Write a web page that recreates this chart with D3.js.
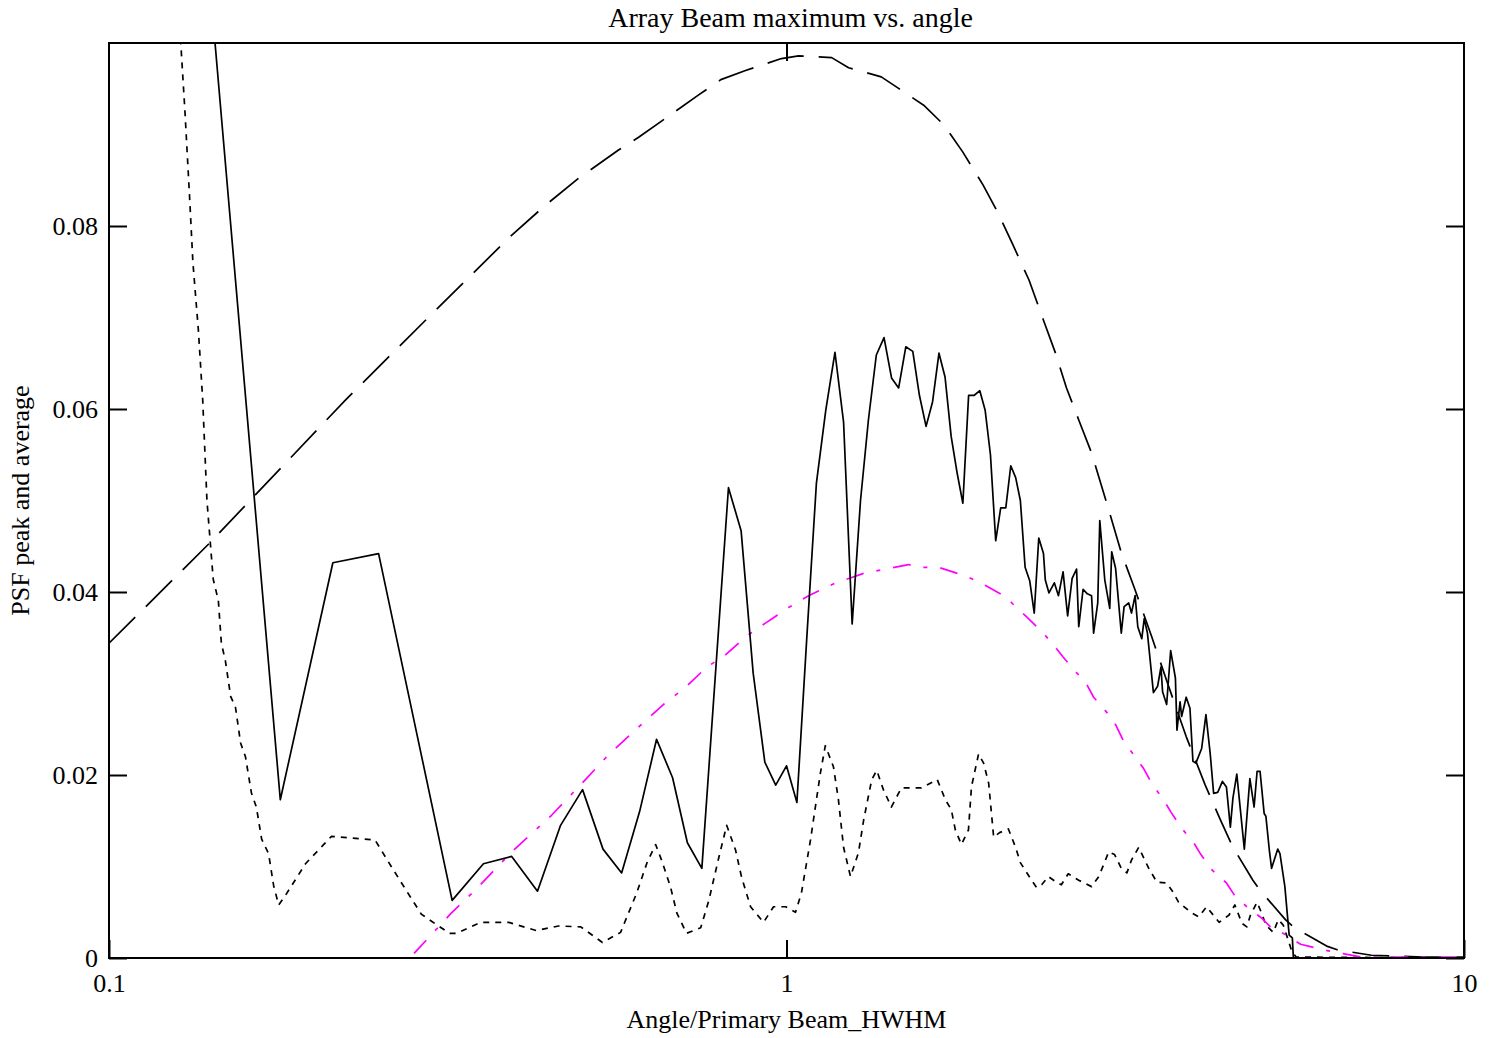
<!DOCTYPE html>
<html>
<head>
<meta charset="utf-8">
<script src="https://cdn.jsdelivr.net/npm/d3@7/dist/d3.min.js"></script>
<style>
body { margin: 0; background: #fff; }
svg text { font-family: "Liberation Serif", "Times New Roman", serif; fill: #000; }
</style>
</head>
<body>
<div id="chart"></div>
<script>
// values: [angle / primary beam HWHM, PSF value]
var xTicks = [0.1, 1, 10];
var yTicks = [0, 0.02, 0.04, 0.06, 0.08];
var title = "Array Beam maximum vs. angle";
var xLabel = "Angle/Primary Beam_HWHM";
var yLabel = "PSF peak and average";

// solid: beam maximum
var beamPeak = [
  [0.143, 0.101], [0.179, 0.0173], [0.214, 0.0432], [0.25, 0.0442], [0.321, 0.0063],
  [0.357, 0.0103], [0.393, 0.0111], [0.429, 0.0073], [0.464, 0.0145], [0.5, 0.0184],
  [0.536, 0.0119], [0.571, 0.0093], [0.607, 0.016], [0.643, 0.0239], [0.679, 0.0197],
  [0.714, 0.0126], [0.75, 0.0098], [0.821, 0.0514], [0.857, 0.0467], [0.893, 0.0311],
  [0.929, 0.0214], [0.964, 0.0189], [1.0, 0.021], [1.036, 0.017], [1.071, 0.0348],
  [1.107, 0.0519], [1.143, 0.0599], [1.179, 0.0662], [1.214, 0.0586], [1.25, 0.0365],
  [1.286, 0.05], [1.321, 0.0588], [1.357, 0.0659], [1.393, 0.0678], [1.429, 0.0634],
  [1.464, 0.0623], [1.5, 0.0668], [1.536, 0.0663], [1.571, 0.0615], [1.607, 0.0581],
  [1.643, 0.0608], [1.679, 0.0661], [1.714, 0.0635], [1.75, 0.057], [1.786, 0.053],
  [1.821, 0.0497], [1.857, 0.0615], [1.893, 0.0615], [1.929, 0.062], [1.964, 0.0599],
  [2.0, 0.055], [2.036, 0.0456], [2.071, 0.0492], [2.107, 0.0492], [2.143, 0.0538],
  [2.179, 0.0525], [2.214, 0.05], [2.25, 0.0427], [2.286, 0.0412], [2.321, 0.0377],
  [2.357, 0.0459], [2.395, 0.0442], [2.41, 0.0413], [2.44, 0.0399], [2.485, 0.041],
  [2.52, 0.0396], [2.56, 0.0422], [2.6, 0.0374], [2.64, 0.0415], [2.68, 0.0425],
  [2.7, 0.0362], [2.74, 0.0403], [2.78, 0.0398], [2.82, 0.0396], [2.84, 0.0355],
  [2.88, 0.0388], [2.9, 0.0478], [2.95, 0.0413], [3.0, 0.0382], [3.02, 0.0444],
  [3.06, 0.0426], [3.12, 0.0355], [3.15, 0.0384], [3.2, 0.0388], [3.23, 0.0377],
  [3.27, 0.0396], [3.3, 0.0362], [3.345, 0.0349], [3.373, 0.0371], [3.41, 0.0355],
  [3.48, 0.029], [3.53, 0.0297], [3.57, 0.0318], [3.59, 0.0291], [3.64, 0.0277],
  [3.69, 0.0336], [3.75, 0.0306], [3.77, 0.0249], [3.81, 0.028], [3.83, 0.0264],
  [3.89, 0.0285], [3.94, 0.0273], [3.98, 0.0215], [4.02, 0.0213], [4.1, 0.0229],
  [4.16, 0.0266], [4.22, 0.0224], [4.27, 0.018], [4.33, 0.0181], [4.4, 0.0193],
  [4.46, 0.0187], [4.52, 0.0143], [4.56, 0.0175], [4.62, 0.0201], [4.74, 0.0119],
  [4.83, 0.0196], [4.9, 0.0165], [4.95, 0.0204], [5.0, 0.0204], [5.07, 0.0158],
  [5.1, 0.0155], [5.16, 0.0118], [5.2, 0.0098], [5.31, 0.0119], [5.35, 0.0114],
  [5.44, 0.0078], [5.52, 0.0025], [5.58, 0.0022], [5.6, 0], [10, 0]
];

// long dashes: upper envelope
var peakEnvelope = [
  [0.1, 0.0344], [0.141, 0.0454], [0.2235, 0.061], [0.296, 0.07], [0.339, 0.0743],
  [0.389, 0.0787], [0.438, 0.0821], [0.493, 0.0852], [0.565, 0.0883], [0.605, 0.0897],
  [0.741, 0.0943], [0.8, 0.096], [0.87, 0.097], [0.983, 0.0983], [1.042, 0.0986],
  [1.166, 0.0984], [1.235, 0.0973], [1.38, 0.0963], [1.46, 0.0951], [1.594, 0.0932],
  [1.71, 0.091], [1.82, 0.0881], [1.95, 0.0845], [2.05, 0.0815], [2.16, 0.0779],
  [2.28, 0.0741], [2.395, 0.0697], [2.495, 0.0661], [2.59, 0.0623], [2.7, 0.0588],
  [2.82, 0.0552], [2.97, 0.0497], [3.12, 0.0443], [3.26, 0.0405], [3.46, 0.0351],
  [3.66, 0.0298], [3.89, 0.0242], [4.15, 0.0189], [4.37, 0.0151], [4.56, 0.0121],
  [4.88, 0.0085], [5.0, 0.0074], [5.45, 0.0042], [5.62, 0.0033], [6.27, 0.0013],
  [6.5, 0.0009], [7.3, 0.0003], [8.7, 0.0001], [10, 0.0001]
];

// short dashes: beam average
var beamAverage = [
  [0.1275, 0.1005], [0.1295, 0.0923], [0.1315, 0.0832], [0.133, 0.076], [0.1355, 0.0686],
  [0.1375, 0.061], [0.1395, 0.05], [0.1425, 0.0414], [0.145, 0.0391], [0.1465, 0.0344],
  [0.1485, 0.0325], [0.1512, 0.0286], [0.1537, 0.0274], [0.1564, 0.0235], [0.159, 0.022],
  [0.1623, 0.018], [0.165, 0.0165], [0.168, 0.013], [0.172, 0.0114], [0.175, 0.0079],
  [0.178, 0.0058], [0.182, 0.0068], [0.195, 0.0103], [0.213, 0.0133], [0.247, 0.0129],
  [0.258, 0.0106], [0.274, 0.0075], [0.289, 0.0048], [0.305, 0.0036], [0.318, 0.0027],
  [0.326, 0.0027], [0.354, 0.0039], [0.389, 0.0039], [0.427, 0.003], [0.461, 0.0035],
  [0.497, 0.0034], [0.535, 0.0017], [0.569, 0.0028], [0.601, 0.0071], [0.623, 0.0105],
  [0.641, 0.0124], [0.654, 0.0107], [0.674, 0.0078], [0.689, 0.0049], [0.712, 0.0027],
  [0.747, 0.0033], [0.768, 0.0063], [0.794, 0.0109], [0.816, 0.0145], [0.841, 0.0118],
  [0.858, 0.0089], [0.885, 0.0056], [0.925, 0.0039], [0.957, 0.0056], [0.997, 0.0056],
  [1.031, 0.005], [1.052, 0.0071], [1.085, 0.0129], [1.103, 0.0165], [1.122, 0.0202],
  [1.141, 0.0232], [1.173, 0.0209], [1.193, 0.0173], [1.214, 0.0121], [1.243, 0.0089],
  [1.277, 0.0115], [1.3, 0.0151], [1.336, 0.0195], [1.359, 0.0205], [1.39, 0.0184],
  [1.428, 0.0165], [1.478, 0.0186], [1.54, 0.0186], [1.582, 0.0186], [1.669, 0.0195],
  [1.716, 0.0173], [1.751, 0.0162], [1.775, 0.014], [1.812, 0.0124], [1.856, 0.014],
  [1.875, 0.0187], [1.921, 0.0223], [1.954, 0.0213], [1.988, 0.0191], [2.022, 0.0132],
  [2.063, 0.0137], [2.126, 0.0141], [2.178, 0.0121], [2.215, 0.0104], [2.3, 0.0085],
  [2.34, 0.0077], [2.38, 0.008], [2.435, 0.0089], [2.5, 0.0083], [2.545, 0.008],
  [2.605, 0.0092], [2.7, 0.0085], [2.82, 0.0078], [2.89, 0.0089], [2.99, 0.0116],
  [3.05, 0.0113], [3.12, 0.0098], [3.18, 0.0093], [3.23, 0.0107], [3.31, 0.0121],
  [3.42, 0.0099], [3.52, 0.0083], [3.64, 0.0082], [3.72, 0.0072], [3.79, 0.0061],
  [3.95, 0.005], [4.06, 0.0045], [4.17, 0.0056], [4.35, 0.0039], [4.5, 0.0047],
  [4.59, 0.0058], [4.7, 0.0038], [4.78, 0.0034], [4.84, 0.0047], [4.95, 0.0061],
  [5.02, 0.005], [5.1, 0.0036], [5.23, 0.0028], [5.32, 0.0042], [5.41, 0.0036],
  [5.5, 0.002], [5.56, 0.0009], [5.65, 0.0001], [10, 0]
];

// magenta dash-dot: average envelope
var averageEnvelope = [
  [0.282, 0.0005], [0.32, 0.0049], [0.347, 0.0074], [0.393, 0.0116], [0.45, 0.0156],
  [0.505, 0.0195], [0.546, 0.0222], [0.604, 0.0252], [0.658, 0.0277], [0.71, 0.0296],
  [0.76, 0.0317], [0.815, 0.0332], [0.87, 0.0351], [0.931, 0.0366], [1.007, 0.0383],
  [1.078, 0.0396], [1.183, 0.041], [1.308, 0.0421], [1.4, 0.0425], [1.514, 0.043],
  [1.566, 0.0427], [1.675, 0.0427], [1.794, 0.042], [1.87, 0.0415], [1.967, 0.0407],
  [2.105, 0.0395], [2.178, 0.0384], [2.26, 0.0373], [2.38, 0.0357], [2.46, 0.0345],
  [2.56, 0.0329], [2.67, 0.0313], [2.76, 0.0302], [2.84, 0.0285], [2.99, 0.0266],
  [3.06, 0.0255], [3.14, 0.0238], [3.27, 0.022], [3.36, 0.0208], [3.46, 0.0191],
  [3.6, 0.0173], [3.69, 0.016], [3.83, 0.0142], [3.99, 0.0126], [4.09, 0.0113],
  [4.25, 0.0096], [4.46, 0.0082], [4.58, 0.0069], [4.78, 0.0056], [5.02, 0.0044],
  [5.18, 0.0034], [5.47, 0.0025], [5.6, 0.002], [5.74, 0.0015], [6.04, 0.0011],
  [6.38, 0.0007], [7.05, 0.0001], [10, 0.0001]
];

var W = 1498, H = 1038;
var margin = {top: 43, right: 34, bottom: 80, left: 109};
var width = W - margin.left - margin.right,
    height = H - margin.top - margin.bottom;

var x = d3.scaleLog().domain([0.1, 10]).range([0, width]);
var y = d3.scaleLinear().domain([0, 0.1]).range([height, 0]);

var svg = d3.select("#chart").append("svg")
    .attr("width", W)
    .attr("height", H)
    .append("g")
    .attr("transform", "translate(" + margin.left + "," + margin.top + ")");

svg.append("clipPath").attr("id", "plotclip")
  .append("rect").attr("width", width).attr("height", height);

var line = d3.line()
    .x(function(d) { return x(d[0]); })
    .y(function(d) { return y(d[1]); });

var series = [
  {data: peakEnvelope, color: "#000", dash: "37,15"},
  {data: beamAverage, color: "#000", dash: "6,6"},
  {data: averageEnvelope, color: "#ff00ff", dash: "18,13,4,13"},
  {data: beamPeak, color: "#000", dash: null}
];

svg.append("g").attr("clip-path", "url(#plotclip)")
  .selectAll("path")
  .data(series)
  .enter().append("path")
    .attr("d", function(d) { return line(d.data); })
    .attr("fill", "none")
    .attr("stroke", function(d) { return d.color; })
    .attr("stroke-width", 1.7)
    .attr("stroke-linejoin", "round")
    .attr("stroke-dasharray", function(d) { return d.dash; });

// axes, ticks pointing inward
var xaxis = d3.axisBottom(x).tickValues(xTicks).tickSize(-18).tickPadding(16)
    .tickFormat(function(d) { return String(d); });
var yaxis = d3.axisLeft(y).tickValues(yTicks).tickSize(-18).tickPadding(11)
    .tickFormat(function(d) { return String(d); });

svg.append("g")
    .attr("class", "xaxis")
    .attr("transform", "translate(0," + height + ")")
    .call(xaxis);
svg.append("g")
    .attr("class", "xaxis-top")
    .call(d3.axisTop(x).tickValues([1]).tickSize(-18).tickFormat(""));
svg.append("g")
    .attr("class", "yaxis")
    .call(yaxis);
svg.append("g")
    .attr("class", "yaxis-right")
    .attr("transform", "translate(" + width + ",0)")
    .call(d3.axisRight(y).tickValues(yTicks).tickSize(-18).tickFormat(""));

svg.selectAll(".domain").remove();
svg.selectAll(".tick line").attr("stroke", "#000").attr("stroke-width", 2);
svg.selectAll(".tick text").style("font-size", "26px")
    .style("font-family", "'Liberation Serif', 'Times New Roman', serif");

svg.append("rect")
    .attr("width", width)
    .attr("height", height)
    .attr("fill", "none")
    .attr("stroke", "#000")
    .attr("stroke-width", 2);

svg.append("text")
    .attr("x", width / 2 + 4)
    .attr("y", -16)
    .style("text-anchor", "middle")
    .style("font-size", "28px")
    .text(title);

svg.append("text")
    .attr("x", width / 2)
    .attr("y", height + 70)
    .style("text-anchor", "middle")
    .style("font-size", "26px")
    .text(xLabel);

svg.append("text")
    .attr("transform", "rotate(-90)")
    .attr("x", -height / 2)
    .attr("y", -margin.left + 29)
    .style("text-anchor", "middle")
    .style("font-size", "26px")
    .text(yLabel);
</script>
</body>
</html>
